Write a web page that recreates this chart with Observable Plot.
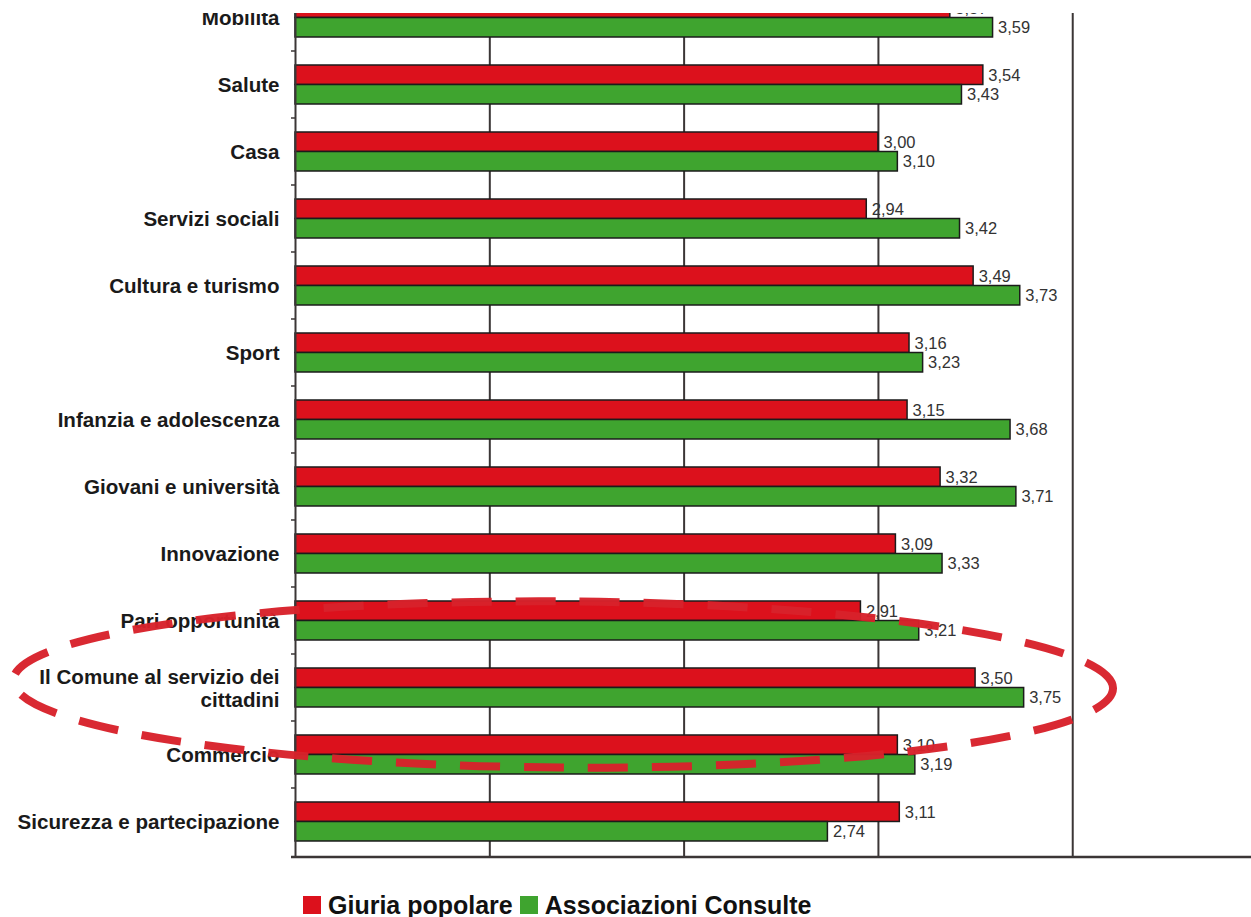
<!DOCTYPE html>
<html><head><meta charset="utf-8">
<script src="https://cdn.jsdelivr.net/npm/d3@7"></script>
<script src="https://cdn.jsdelivr.net/npm/@observablehq/plot@0.6"></script>
<style>
html,body{margin:0;padding:0;background:#fff;overflow:hidden;width:1251px;height:917px;font-family:"Liberation Sans",Arial,sans-serif}
#clip{position:absolute;left:0;top:13px;width:1251px;height:867px;overflow:hidden}
#clip svg{display:block;margin-top:-31px}
#legend{position:absolute;left:303px;top:890px;display:flex;align-items:center;font-weight:bold;font-size:25px;color:#111;white-space:nowrap;line-height:30px}
.sw{width:18px;height:18px;display:inline-block;margin-right:7px}
.item{display:flex;align-items:center;margin-right:7px}
</style></head><body>
<div id="clip"></div>
<div id="legend"></div>
<script>
const categories = ["Mobilità", "Salute", "Casa", "Servizi sociali", "Cultura e turismo", "Sport", "Infanzia e adolescenza", "Giovani e università", "Innovazione", "Pari opportunità", "Il Comune al servizio dei cittadini", "Commercio", "Sicurezza e partecipazione"];
const giuriaPopolare = [3.37, 3.54, 3.00, 2.94, 3.49, 3.16, 3.15, 3.32, 3.09, 2.91, 3.50, 3.10, 3.11];
const associazioniConsulte = [3.59, 3.43, 3.10, 3.42, 3.73, 3.23, 3.68, 3.71, 3.33, 3.21, 3.75, 3.19, 2.74];
const seriesNames = ["Giuria popolare", "Associazioni Consulte"];
const seriesColors = ["#dc111c", "#3fa42f"];
const gridTicks = [1, 2, 3, 4];
const highlighted = "Il Comune al servizio dei cittadini";
const labelLines = {"Il Comune al servizio dei cittadini": "Il Comune al servizio dei\ncittadini"};

const step = 67.3, padIn = 0.42;
const bw = step * (1 - padIn), half = bw / 2;
const plotH = step * categories.length;
const marginBottom = 12;

const red = categories.map((c, i) => ({category: c, series: seriesNames[0], value: giuriaPopolare[i]}));
const green = categories.map((c, i) => ({category: c, series: seriesNames[1], value: associazioniConsulte[i]}));
const fmt = v => d3.format(".2f")(v).replace(".", ",");
const lineColor = "#3b3636";

function frameLines(index, scales, values, dimensions) {
  const {width, height} = dimensions;
  const sy = scales.y, sx = scales.x;
  const bwid = typeof sy.bandwidth === "function" ? sy.bandwidth() : bw;
  const st = typeof sy.step === "function" ? sy.step() : step;
  const g = d3.create("svg:g").attr("stroke", lineColor).attr("fill", "none");
  const x0 = sx(0);
  const yb = height - marginBottom;
  g.append("line").attr("x1", x0 - 4).attr("x2", width).attr("y1", yb).attr("y2", yb).attr("stroke-width", 2.5);
  for (const c of categories) {
    const yt = sy(c) - (st - bwid) / 2;
    g.append("line").attr("x1", x0 - 4).attr("x2", x0).attr("y1", yt).attr("y2", yt).attr("stroke-width", 1.5);
  }
  return g.node();
}

function ellipseMark(index, scales) {
  const sy = scales.y, sx = scales.x;
  const bwid = typeof sy.bandwidth === "function" ? sy.bandwidth() : bw;
  const st = typeof sy.step === "function" ? sy.step() : step;
  const cx = sx(1.38), cy = sy(highlighted) + bwid / 2 - 3;
  const rx = sx(2.83) - sx(0), ry = st * 1.24;
  return d3.create("svg:ellipse")
    .attr("cx", cx).attr("cy", cy).attr("rx", rx).attr("ry", ry)
    .attr("transform", `rotate(0.4 ${cx} ${cy})`)
    .attr("fill", "none").attr("stroke", "#d8222b").attr("stroke-width", 8)
    .attr("stroke-dasharray", "40 24").attr("stroke-dashoffset", 10).attr("opacity", 0.97)
    .node();
}

const chart = Plot.plot({
  width: 1251,
  height: plotH + marginBottom,
  marginLeft: 295,
  marginRight: 0,
  marginTop: 0,
  marginBottom,
  style: {fontFamily: "'Liberation Sans', Arial, sans-serif", background: "white", overflow: "visible"},
  x: {domain: [0, 4.92], axis: null},
  y: {domain: categories, paddingInner: padIn, paddingOuter: padIn / 2, align: 0.5},
  color: {domain: seriesNames, range: seriesColors},
  marks: [
    Plot.ruleX(gridTicks, {stroke: lineColor, strokeWidth: 2}),
    Plot.barX(red, {x: "value", y: "category", fill: "series", stroke: "#1b1b1b", strokeWidth: 1.5, insetBottom: half}),
    Plot.barX(green, {x: "value", y: "category", fill: "series", stroke: "#1b1b1b", strokeWidth: 1.5, insetTop: half}),
    Plot.text(red, {x: "value", y: "category", text: d => fmt(d.value), dx: 5, dy: -half / 2, textAnchor: "start", fontSize: 16.5, fill: "#333"}),
    Plot.text(green, {x: "value", y: "category", text: d => fmt(d.value), dx: 5, dy: half / 2, textAnchor: "start", fontSize: 16.5, fill: "#333"}),
    Plot.ruleX([0], {stroke: lineColor, strokeWidth: 2}),
    frameLines,
    Plot.axisY({tickSize: 0, tickPadding: 16, fontSize: 20.6, fontWeight: "bold", fill: "#1a1a1a", label: null, lineHeight: 1.12, tickFormat: c => labelLines[c] ?? c}),
    ellipseMark
  ]
});
document.getElementById("clip").appendChild(chart);

const legend = d3.select("#legend");
seriesNames.forEach((s, i) => {
  const it = legend.append("span").attr("class", "item");
  it.append("span").attr("class", "sw").style("background", seriesColors[i]);
  it.append("span").text(s);
});
</script>
</body></html>
